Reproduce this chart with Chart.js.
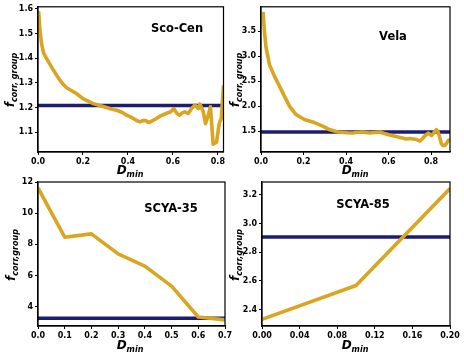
<!DOCTYPE html>
<html><head><meta charset="utf-8">
<script src="https://cdn.jsdelivr.net/npm/chart.js@4/dist/chart.umd.min.js"></script>
<style>
html,body{margin:0;padding:0;background:#fff;}
body{width:464px;height:358px;overflow:hidden;position:relative;font-family:"DejaVu Sans",sans-serif;}
canvas{position:absolute;left:0;top:0;}
.t{position:absolute;white-space:nowrap;color:#000;font-weight:bold;transform:translate(-50%,-50%);line-height:1;}
.ax{font-style:italic;font-size:12px;}
.ax sub{font-size:8px;vertical-align:-3px;}
.rot{transform:translate(-50%,-50%) rotate(-90deg);}
.ttl{font-size:11.5px;}
</style>
</head><body>
<canvas id="c1" width="464" height="358"></canvas>
<canvas id="c2" width="464" height="358"></canvas>
<canvas id="c3" width="464" height="358"></canvas>
<canvas id="c4" width="464" height="358"></canvas>

<div class="t ttl" style="left:177px;top:29px">Sco-Cen</div>
<div class="t ttl" style="left:393px;top:37px">Vela</div>
<div class="t ttl" style="left:171px;top:209px">SCYA-35</div>
<div class="t ttl" style="left:363px;top:205px">SCYA-85</div>

<div class="t ax" style="left:130px;top:171px">D<sub>min</sub></div>
<div class="t ax" style="left:355px;top:171px">D<sub>min</sub></div>
<div class="t ax" style="left:130px;top:346px">D<sub>min</sub></div>
<div class="t ax" style="left:355px;top:346px">D<sub>min</sub></div>

<div class="t ax rot" style="left:11px;top:80px">f<sub>corr, group</sub></div>
<div class="t ax rot" style="left:236px;top:80px">f<sub>corr, group</sub></div>
<div class="t ax rot" style="left:12px;top:255px">f<sub>corr,group</sub></div>
<div class="t ax rot" style="left:236px;top:255px">f<sub>corr,group</sub></div>

<script>
// ---------------- data ----------------
const scoCenD = [0.003,0.008,0.016,0.025,0.039,0.05,0.061,0.08,0.098,0.113,0.127,0.15,0.172,0.2,0.225,0.246,0.275,0.305,0.33,0.35,0.375,0.394,0.42,0.44,0.453,0.465,0.48,0.49,0.5,0.52,0.542,0.57,0.59,0.604,0.618,0.63,0.642,0.653,0.668,0.683,0.698,0.713,0.72,0.735,0.745,0.757,0.767,0.779,0.794,0.806,0.815,0.825];
const scoCenF = [1.59,1.52,1.458,1.42,1.397,1.38,1.363,1.335,1.31,1.293,1.28,1.268,1.256,1.236,1.225,1.216,1.208,1.2,1.193,1.189,1.18,1.169,1.158,1.147,1.142,1.147,1.147,1.14,1.142,1.152,1.165,1.176,1.183,1.196,1.176,1.169,1.178,1.183,1.176,1.196,1.21,1.196,1.214,1.183,1.135,1.169,1.203,1.052,1.06,1.135,1.156,1.29];
const scoCenRef = 1.208;

const velaD = [0.01,0.016,0.024,0.04,0.063,0.087,0.11,0.134,0.165,0.204,0.251,0.29,0.322,0.361,0.408,0.433,0.447,0.475,0.512,0.535,0.559,0.58,0.606,0.625,0.645,0.665,0.684,0.7,0.716,0.732,0.748,0.758,0.77,0.786,0.802,0.814,0.825,0.833,0.84,0.848,0.856,0.864,0.872,0.88,0.889];
const velaF = [3.89,3.5,3.17,2.83,2.6,2.4,2.2,2.0,1.83,1.73,1.67,1.6,1.53,1.48,1.465,1.46,1.47,1.48,1.46,1.47,1.48,1.45,1.42,1.4,1.38,1.36,1.34,1.35,1.34,1.33,1.3,1.34,1.4,1.46,1.41,1.47,1.53,1.48,1.38,1.25,1.21,1.21,1.25,1.31,1.33];
const velaRef = 1.48;

const scya35D = [0.0,0.1,0.2,0.3,0.4,0.5,0.6,0.7];
const scya35F = [11.62,8.46,8.67,7.39,6.6,5.32,3.34,3.15];
const scya35Ref = 3.25;

const scya85D = [0.0,0.1,0.2];
const scya85F = [2.333,2.569,3.242];
const scya85Ref = 2.905;

const scoCenXTicks = [0.0,0.2,0.4,0.6,0.8];
const scoCenYTicks = [1.1,1.2,1.3,1.4,1.5,1.6];
const velaXTicks = [0.0,0.2,0.4,0.6,0.8];
const velaYTicks = [1.5,2.0,2.5,3.0,3.5];
const scya35XTicks = [0.0,0.1,0.2,0.3,0.4,0.5,0.6,0.7];
const scya35YTicks = [4,6,8,10,12];
const scya85XTicks = [0.00,0.04,0.08,0.12,0.16,0.20];
const scya85YTicks = [2.4,2.6,2.8,3.0,3.2];

// ---------------- drawing ----------------
const GOLD = '#DAA520';
const NAVY = '#1c1c72';
const W = 464, H = 358, YW = 30, XH = 16;

const frame = {
  id: 'frame',
  afterDraw(chart) {
    const a = chart.chartArea, c = chart.ctx;
    c.save(); c.strokeStyle = '#000'; c.lineWidth = 1.2;
    c.strokeRect(a.left, a.top, a.right - a.left, a.bottom - a.top);
    c.restore();
  }
};

function panel(id, D, F, ref, xt, yt, area, xlim, ylim, xdec, ydec) {
  const tickFont = {family: 'DejaVu Sans', size: 8, weight: 'bold'};
  const axisCommon = (ticksArr, dec) => ({
    type: 'linear',
    grid: {display: true, drawOnChartArea: false, drawTicks: true, tickLength: 3, color: '#000', lineWidth: 1},
    border: {display: true, color: '#000', width: 1.2},
    ticks: {font: tickFont, color: '#000', padding: 2, maxRotation: 0, autoSkip: false,
            includeBounds: false, callback: v => Number(v).toFixed(dec)},
    afterBuildTicks: s => { s.ticks = ticksArr.map(v => ({value: v})); }
  });
  const xs = axisCommon(xt, xdec);
  xs.min = xlim[0]; xs.max = xlim[1];
  xs.afterFit = s => { s.height = XH; };
  const ys = axisCommon(yt, ydec);
  ys.min = ylim[0]; ys.max = ylim[1];
  ys.afterFit = s => { s.width = YW; };

  new Chart(document.getElementById(id), {
    type: 'line',
    data: {
      datasets: [
        {data: D.map((d, i) => ({x: d, y: F[i]})), borderColor: GOLD, borderWidth: 3.6,
         pointRadius: 0, tension: 0, borderJoinStyle: 'round', order: 0},
        {data: [{x: xlim[0], y: ref}, {x: xlim[1], y: ref}], borderColor: NAVY, borderWidth: 3.5,
         pointRadius: 0, order: 1}
      ]
    },
    options: {
      responsive: false, animation: false, events: [],
      layout: {padding: {left: area[0] - YW, top: area[1], right: W - area[2], bottom: H - area[3] - XH}},
      plugins: {legend: {display: false}, tooltip: {enabled: false}},
      scales: {x: xs, y: ys}
    },
    plugins: [frame]
  });
}

panel('c1', scoCenD, scoCenF, scoCenRef, scoCenXTicks, scoCenYTicks, [38, 6, 223.5, 152], [0, 0.825], [1.02, 1.608], 1, 1);
panel('c2', velaD, velaF, velaRef, velaXTicks, velaYTicks, [261, 6, 450, 152], [0, 0.889], [1.08, 3.99], 1, 1);
panel('c3', scya35D, scya35F, scya35Ref, scya35XTicks, scya35YTicks, [38, 182, 225, 326], [0, 0.7], [2.76, 12], 1, 0);
panel('c4', scya85D, scya85F, scya85Ref, scya85XTicks, scya85YTicks, [262, 182, 450, 326], [0, 0.2], [2.287, 3.288], 2, 1);
</script>
</body></html>
